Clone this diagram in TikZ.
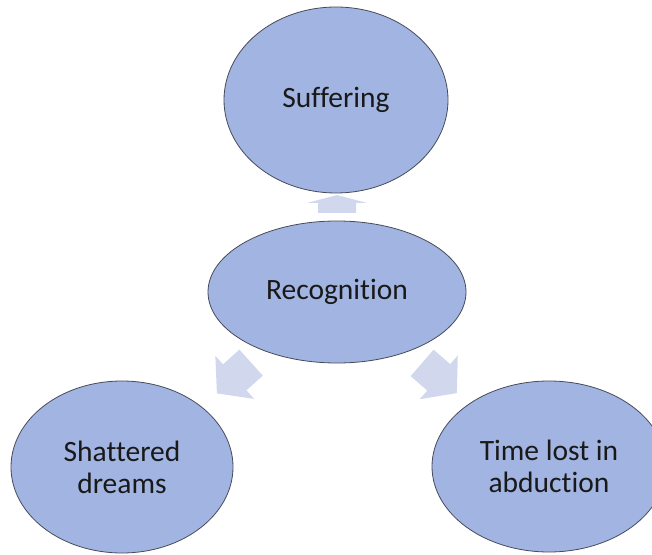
\documentclass[tikz,border=0pt]{standalone}
\usepackage{fontspec}
\setmainfont[Ligatures=NoCommon]{Carlito}
\definecolor{ellfill}{RGB}{162,180,225}
\definecolor{ellline}{RGB}{70,75,90}
\definecolor{arrfill}{RGB}{209,216,237}
\tikzset{
  bubble/.style={ellipse, draw=ellline, line width=0.8pt, fill=ellfill, inner sep=0pt,
    align=center, font=\fontsize{29.5}{32}\selectfont, text=black!90},
  blockarrow/.pic={\fill[arrfill] (-23,-17.5) -- (-1,-17.5) -- (-1,-29) -- (23,0) -- (-1,29) -- (-1,17.5) -- (-23,17.5) -- cycle;},
  uparrow/.pic={\fill[arrfill] (-9,-19) -- (1,-19) -- (1,-30) -- (9,0) -- (1,30) -- (1,19) -- (-9,19) -- cycle;}
}
\usetikzlibrary{shapes.geometric}
\begin{document}
\begin{tikzpicture}[x=1pt,y=1pt]
\useasboundingbox (0,0) rectangle (652,554);
\clip (0,0) rectangle (652,554);
\node[bubble, minimum width=224pt, minimum height=186pt] (suf) at (336,454) {Suffering};
\node[bubble, minimum width=258pt, minimum height=142pt] (rec) at (337,262) {Recognition};
\node[bubble, minimum width=222pt, minimum height=172pt] (sha) at (122,87) {Shattered\\dreams};
\node[bubble, minimum width=234pt, minimum height=171pt] (tim) at (549,87.5) {Time lost in\\abduction};
\pic[rotate=90] at (337,350) {uparrow};
\pic[rotate=222] at (234,176) {blockarrow};
\pic[rotate=-41] at (439.5,176) {blockarrow};
\end{tikzpicture}
\end{document}
